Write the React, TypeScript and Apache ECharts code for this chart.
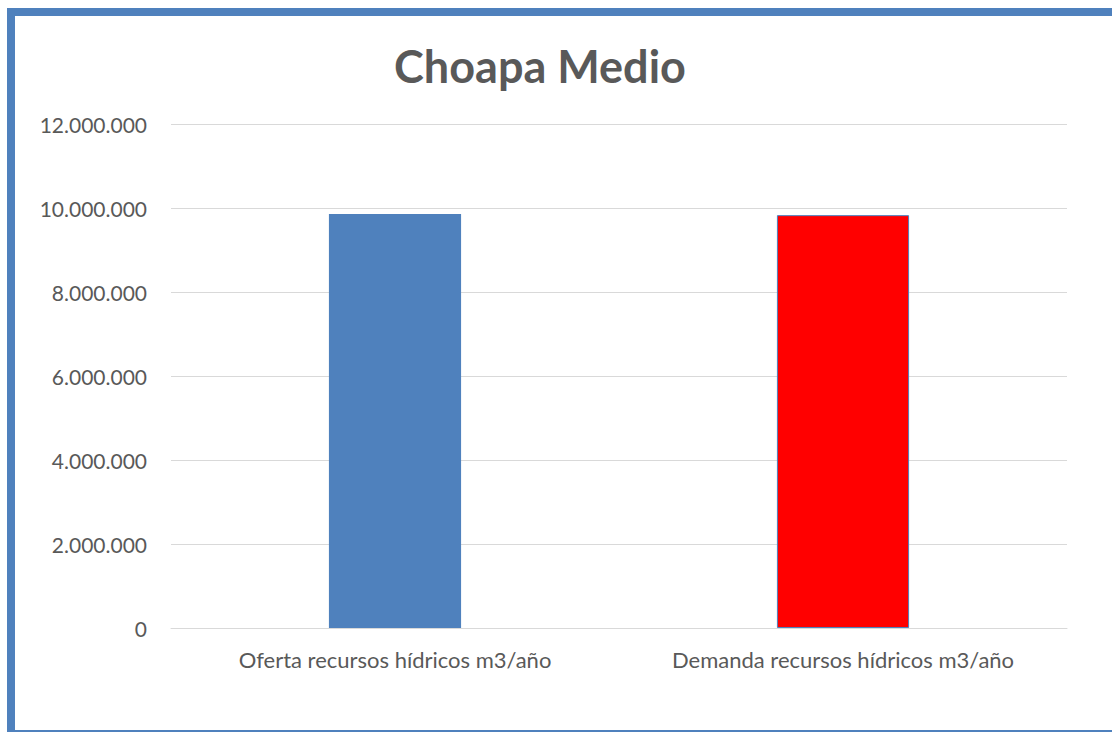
import React, { useEffect, useRef } from "react";
import * as echarts from "echarts";

const categories = ["Oferta recursos hídricos m3/año", "Demanda recursos hídricos m3/año"];
const values = [9860000, 9830000];
const barColors = ["#4f81bd", "#ff0000"];
const titleText = "Choapa Medio";

function fmt(v: number): string {
  return String(Math.round(v)).replace(/\B(?=(\d{3})+(?!\d))/g, ".");
}

const FONT = "Lato, 'Noto Sans', sans-serif";

export default function App() {
  const ref = useRef<HTMLDivElement>(null);
  useEffect(() => {
    document.body.style.margin = "0";
    const chart = echarts.init(ref.current!, null, { renderer: "svg" });
    chart.setOption({
      animation: false,
      backgroundColor: "#ffffff",
      title: {
        text: titleText,
        left: 535,
        top: 38,
        textAlign: "center",
        textStyle: { fontFamily: FONT, fontSize: 45, fontWeight: "bold", color: "#595959" },
      },
      grid: { left: 171, right: 45, top: 124, bottom: 104, containLabel: false },
      xAxis: {
        type: "category",
        data: categories,
        axisLine: { show: true, lineStyle: { color: "#d9d9d9", width: 1 } },
        axisTick: { show: false },
        axisLabel: { color: "#595959", fontSize: 22, fontFamily: FONT, margin: 20 },
      },
      yAxis: {
        type: "value",
        min: 0,
        max: 12000000,
        interval: 2000000,
        axisLine: { show: false },
        axisTick: { show: false },
        splitLine: { lineStyle: { color: "#d9d9d9", width: 1 } },
        axisLabel: { color: "#595959", fontSize: 21, fontFamily: FONT, margin: 24, formatter: (v: number) => fmt(v) },
      },
      series: [
        {
          type: "bar",
          barWidth: "29.5%",
          data: values.map((v, i) => ({
            value: v,
            itemStyle: {
              color: barColors[i],
              borderColor: i === 1 ? "#4f81bd" : barColors[i],
              borderWidth: i === 1 ? 1 : 0,
            },
          })),
        },
      ],
      graphic: [
        { type: "rect", shape: { x: 7, y: 8, width: 8, height: 724 }, style: { fill: "#4f81bd" } },
        { type: "rect", shape: { x: 7, y: 8, width: 1105, height: 8 }, style: { fill: "#4f81bd" } },
        { type: "rect", shape: { x: 7, y: 730, width: 1105, height: 2 }, style: { fill: "#4f81bd" } },
      ],
    });
    return () => chart.dispose();
  }, []);
  return <div ref={ref} style={{ width: 1112, height: 732 }} />;
}
